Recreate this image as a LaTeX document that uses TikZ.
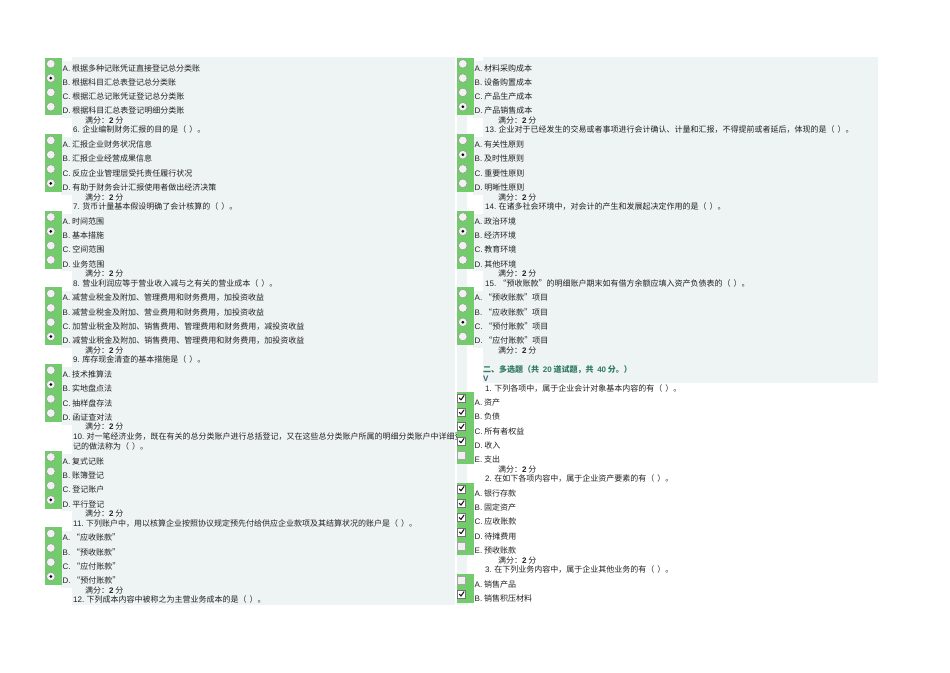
\documentclass[tikz,border=0pt]{standalone}
\usepackage{fontspec}
\setmainfont{Noto Sans CJK SC}
\newfontfamily\lat{Liberation Sans}
\definecolor{panelc}{HTML}{EEF3F3}
\definecolor{mintc}{rgb}{0.45,0.80,0.42}
\definecolor{txtc}{HTML}{222222}
\definecolor{headc}{HTML}{2F7A60}
\definecolor{vc}{HTML}{3C5A78}
\newcommand\kh{（\hspace{3pt}）}
\tikzset{
  panel/.style={fill=panelc},
  txt/.style={anchor=base west,inner sep=0pt,text=txtc,font=\fontsize{8}{9}\selectfont},
  radiob/.style={circle,minimum size=8.6pt,inner sep=0pt,draw=black!42,line width=0.5pt,fill=black!5},
  cbox/.style={rectangle,minimum size=8pt,inner sep=0pt,draw=black!55,line width=0.5pt,fill=white},
  cboxoff/.style={rectangle,minimum size=8pt,inner sep=0pt,draw=black!35,line width=0.6pt,fill=black!6},
  chkmark/.style={draw=black!90,line width=1.1pt,line cap=round,line join=round}
}
% radio option: #1 square x, #2 y, #3 name, #4 selected, #5 letter, #6 text
\newcommand\ropt[6]{%
  \path[fill=panelc] (#1+16,#2-7.2) rectangle (#1+28,#2+7.2);
  \path[fill=mintc] (#1,#2-10.5) rectangle (#1+17,#2+4.5);
  \node[radiob] (#3r) at (#1+5.8,#2-4.2) {};
  \ifnum#4=1 \fill[black] (#3r.center) circle (1.5);\fi
  \node[txt] (#3) at (#1+17.5,#2+3) {{\lat #5.} #6};}
% checkbox option
\newcommand\copt[6]{%
  \path[fill=mintc] (#1,#2-10.5) rectangle (#1+17,#2+4.5);
  \ifnum#4=1
    \node[cbox] (#3r) at (#1+4.6,#2-4.4) {};
    \draw[chkmark,shift={(#3r.center)}] (-2.3,0.1) -- (-0.6,1.9) -- (2.4,-2.4);
  \else
    \node[cboxoff] (#3r) at (#1+4.6,#2-4.4) {};
  \fi
  \node[txt] (#3) at (#1+17.5,#2+3) {{\lat #5.} #6};}
\newcommand\score[3]{\node[txt] (#3) at (#1,#2+3) {满分：{\lat\bfseries 2} 分};}
\newcommand\ques[5]{\node[txt] (#3) at (#1,#2+3) {{\lat #4.} #5};}
\begin{document}
\begin{tikzpicture}[x=1pt,y=-1pt]
\useasboundingbox[fill=white] (0,0) rectangle (950,672);
% panels
\fill[panel] (72,57) rectangle (455,605);
\fill[panel] (483,57) rectangle (878,383);
\fill[panel] (457,57) rectangle (467,605);
% ---------------- left column ----------------
\ropt{45}{68}{la1}{0}{A}{根据多种记账凭证直接登记总分类账}
\ropt{45}{82.3}{lb1}{1}{B}{根据科目汇总表登记总分类账}
\ropt{45}{96.6}{lc1}{0}{C}{根据汇总记账凭证登记总分类账}
\ropt{45}{110.9}{ld1}{0}{D}{根据科目汇总表登记明细分类账}
\score{85}{120.4}{ls1}
\ques{73}{129.9}{lq6}{6}{企业编制财务汇报的目的是\kh。}
\ropt{45}{144.6}{la2}{0}{A}{汇报企业财务状况信息}
\ropt{45}{158.9}{lb2}{0}{B}{汇报企业经营成果信息}
\ropt{45}{173.2}{lc2}{0}{C}{反应企业管理层受托责任履行状况}
\ropt{45}{187.5}{ld2}{1}{D}{有助于财务会计汇报使用者做出经济决策}
\score{85}{197}{ls2}
\ques{73}{206.5}{lq7}{7}{货币计量基本假设明确了会计核算的\kh。}
\ropt{45}{221.2}{la3}{0}{A}{时间范围}
\ropt{45}{235.5}{lb3}{1}{B}{基本措施}
\ropt{45}{249.8}{lc3}{0}{C}{空间范围}
\ropt{45}{264.1}{ld3}{0}{D}{业务范围}
\score{85}{273.6}{ls3}
\ques{73}{283.1}{lq8}{8}{营业利润应等于营业收入减与之有关的营业成本\kh。}
\ropt{45}{297.8}{la4}{0}{A}{减营业税金及附加、管理费用和财务费用，加投资收益}
\ropt{45}{312.1}{lb4}{0}{B}{减营业税金及附加、营业费用和财务费用，加投资收益}
\ropt{45}{326.4}{lc4}{0}{C}{加营业税金及附加、销售费用、管理费用和财务费用，减投资收益}
\ropt{45}{340.7}{ld4}{1}{D}{减营业税金及附加、销售费用、管理费用和财务费用，加投资收益}
\score{85}{350.2}{ls4}
\ques{73}{359.7}{lq9}{9}{库存现金清查的基本措施是\kh。}
\ropt{45}{374.4}{la5}{0}{A}{技术推算法}
\ropt{45}{388.7}{lb5}{1}{B}{实地盘点法}
\ropt{45}{403}{lc5}{0}{C}{抽样盘存法}
\ropt{45}{417.3}{ld5}{0}{D}{函证查对法}
\score{85}{426.8}{ls5}
\ques{73}{436.3}{lq10}{10}{对一笔经济业务，既在有关的总分类账户进行总括登记，又在这些总分类账户所属的明细分类账户中详细登}
\node[txt] (lq10b) at (73,449.5) {记的做法称为\kh。};
\ropt{45}{461.2}{la6}{0}{A}{复式记账}
\ropt{45}{475.5}{lb6}{0}{B}{账簿登记}
\ropt{45}{489.8}{lc6}{0}{C}{登记账户}
\ropt{45}{504.1}{ld6}{1}{D}{平行登记}
\score{85}{513.6}{ls6}
\ques{73}{523.1}{lq11}{11}{下列账户中，用以核算企业按照协议规定预先付给供应企业款项及其结算状况的账户是\kh。}
\ropt{45}{537.8}{la7}{0}{A}{“应收账款”}
\ropt{45}{552.1}{lb7}{0}{B}{“预收账款”}
\ropt{45}{566.4}{lc7}{0}{C}{“应付账款”}
\ropt{45}{580.7}{ld7}{1}{D}{“预付账款”}
\score{85}{590.2}{ls7}
\ques{73}{599.7}{lq12}{12}{下列成本内容中被称之为主营业务成本的是\kh。}
% ---------------- right column ----------------
\ropt{457}{68}{ra1}{0}{A}{材料采购成本}
\ropt{457}{82.3}{rb1}{0}{B}{设备购置成本}
\ropt{457}{96.6}{rc1}{0}{C}{产品生产成本}
\ropt{457}{110.9}{rd1}{1}{D}{产品销售成本}
\score{498}{120.4}{rs1}
\ques{485}{129.9}{rq13}{13}{企业对于已经发生的交易或者事项进行会计确认、计量和汇报，不得提前或者延后，体现的是\kh。}
\ropt{457}{144.6}{ra2}{0}{A}{有关性原则}
\ropt{457}{158.9}{rb2}{1}{B}{及时性原则}
\ropt{457}{173.2}{rc2}{0}{C}{重要性原则}
\ropt{457}{187.5}{rd2}{0}{D}{明晰性原则}
\score{498}{197}{rs2}
\ques{485}{206.5}{rq14}{14}{在诸多社会环境中，对会计的产生和发展起决定作用的是\kh。}
\ropt{457}{221.2}{ra3}{0}{A}{政治环境}
\ropt{457}{235.5}{rb3}{1}{B}{经济环境}
\ropt{457}{249.8}{rc3}{0}{C}{教育环境}
\ropt{457}{264.1}{rd3}{0}{D}{其他环境}
\score{498}{273.6}{rs3}
\ques{485}{283.1}{rq15}{15}{“预收账款”的明细账户期末如有借方余额应填入资产负债表的\kh。}
\ropt{457}{297.8}{ra4}{0}{A}{“预收账款”项目}
\ropt{457}{312.1}{rb4}{0}{B}{“应收账款”项目}
\ropt{457}{326.4}{rc4}{1}{C}{“预付账款”项目}
\ropt{457}{340.7}{rd4}{0}{D}{“应付账款”项目}
\score{498}{350.2}{rs4}
\node[txt,text=headc,font=\fontsize{8}{9}\selectfont\bfseries] (head) at (483,372) {二、多选题（共\ \ {\lat 20} 道试题，共\ \ {\lat 40} 分。）};
\node[txt,text=vc,font=\fontsize{8}{9}\selectfont\lat\bfseries] (vv) at (483,381.5) {V};
\ques{485}{388}{mq1}{1}{下列各项中，属于企业会计对象基本内容的有\kh。}
\copt{457}{402.4}{ma1}{1}{A}{资产}
\copt{457}{416.7}{mb1}{1}{B}{负债}
\copt{457}{431}{mc1}{1}{C}{所有者权益}
\copt{457}{445.3}{md1}{1}{D}{收入}
\copt{457}{459.6}{me1}{0}{E}{支出}
\score{498}{469.1}{ms1}
\ques{485}{478.6}{mq2}{2}{在如下各项内容中，属于企业资产要素的有\kh。}
\copt{457}{493.3}{ma2}{1}{A}{银行存款}
\copt{457}{507.6}{mb2}{1}{B}{固定资产}
\copt{457}{521.9}{mc2}{1}{C}{应收账款}
\copt{457}{536.2}{md2}{1}{D}{待摊费用}
\copt{457}{550.5}{me2}{0}{E}{预收账款}
\score{498}{560}{ms2}
\ques{485}{569.5}{mq3}{3}{在下列业务内容中，属于企业其他业务的有\kh。}
\copt{457}{584.2}{ma3}{0}{A}{销售产品}
\copt{457}{598.5}{mb3}{1}{B}{销售积压材料}
\end{tikzpicture}
\end{document}
